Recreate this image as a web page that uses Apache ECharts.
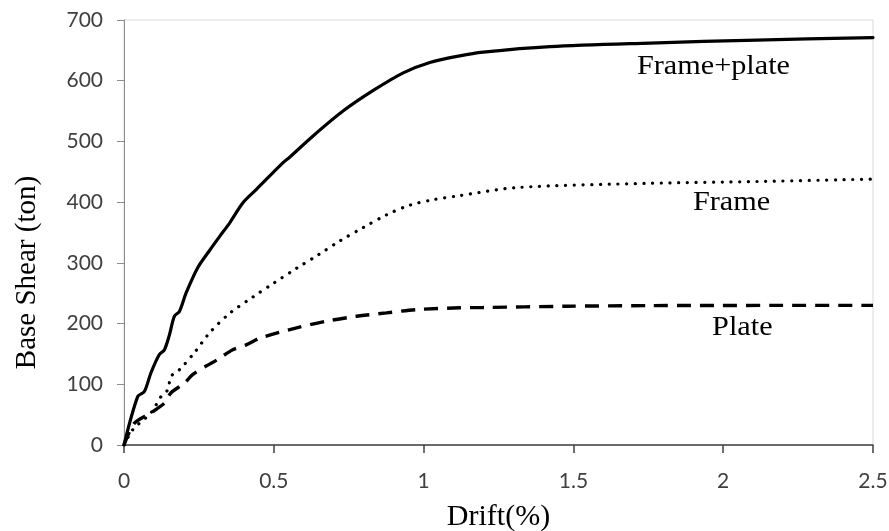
<!DOCTYPE html>
<html>
<head>
<meta charset="utf-8">
<script src="https://cdn.jsdelivr.net/npm/echarts@6/dist/echarts.min.js"></script>
<style>
  html, body { margin: 0; padding: 0; background: #fff; }
  #chart { width: 889px; height: 531px; }
</style>
</head>
<body>
<div id="chart"></div>
<script>
// Pushover curves: base shear vs. roof drift
const xTicks = [0, 0.5, 1, 1.5, 2, 2.5];
const yTicks = [0, 100, 200, 300, 400, 500, 600, 700];

// Frame + plate system (solid)
const framePlateDrift = [0, 0.046, 0.068, 0.09, 0.118, 0.135, 0.152, 0.168, 0.185, 0.207, 0.246, 0.285, 0.32, 0.353, 0.397, 0.442, 0.531, 0.553, 0.631, 0.731, 0.832, 0.932, 1.021, 1.121, 1.199, 1.422, 1.756, 2.112, 2.5];
const framePlateShear = [0, 80, 88, 119, 149, 157, 182, 212, 220, 250, 292, 320, 344, 366, 399, 421, 465, 474, 509, 550, 584, 613, 630, 641, 647, 656, 662, 667, 671];

// Bare frame (dotted)
const frameDrift = [0, 0.029, 0.09, 0.124, 0.146, 0.157, 0.185, 0.235, 0.286, 0.353, 0.431, 0.498, 0.576, 0.648, 0.72, 0.798, 0.876, 0.954, 1.032, 1.11, 1.311, 1.75, 2.112, 2.5];
const frameShear = [0, 25, 53, 80, 91, 113, 124, 152, 185, 217, 244, 266, 291, 313, 336, 358, 379, 395, 404, 410, 424, 431, 434, 438];

// Steel plate (dashed)
const plateDrift = [0, 0.035, 0.09, 0.135, 0.157, 0.202, 0.229, 0.274, 0.313, 0.363, 0.408, 0.453, 0.576, 0.676, 0.776, 0.876, 0.977, 1.121, 1.199, 1.478, 1.75, 2.5];
const plateShear = [0, 36, 53, 69, 86, 102, 116, 130, 141, 157, 165, 176, 193, 204, 212, 217.6, 223, 226, 226.5, 228.5, 229.6, 230];

// Curve captions: [text, drift, shear] at the text's left edge, bottom of box
const curveLabels = [
  ['Frame+plate', 1.712, 601],
  ['Frame', 1.899, 376],
  ['Plate', 1.963, 170]
];

const zip = (xs, ys) => xs.map((x, i) => [x, ys[i]]);

const chart = echarts.init(document.getElementById('chart'), null, { renderer: 'canvas' });

const serif = '"Liberation Serif", "Times New Roman", serif';
const sans = 'Lato, "Open Sans", sans-serif';

const option = {
  animation: false,
  backgroundColor: '#ffffff',
  grid: {
    left: 124, right: 16, top: 20, bottom: 86,
    outerBoundsMode: 'none',
    containLabel: false,
    show: true, borderColor: '#d9d9d9', borderWidth: 1, backgroundColor: 'transparent'
  },
  xAxis: {
    type: 'value',
    min: xTicks[0], max: xTicks[xTicks.length - 1], interval: xTicks[1] - xTicks[0],
    name: 'Drift(%)',
    nameLocation: 'middle',
    nameGap: 57,
    nameMoveOverlap: false,
    nameTextStyle: { fontFamily: serif, fontSize: 30, color: '#000' },
    axisLine: { show: true, lineStyle: { color: '#404040', width: 1.5 } },
    axisTick: { show: true, inside: false, length: 8, lineStyle: { color: '#404040', width: 1.5 } },
    axisLabel: { fontFamily: sans, fontSize: 21, color: '#404040', margin: 26 },
    splitLine: { show: false }
  },
  yAxis: {
    type: 'value',
    min: yTicks[0], max: yTicks[yTicks.length - 1], interval: yTicks[1] - yTicks[0],
    name: 'Base Shear (ton)',
    nameLocation: 'middle',
    nameGap: 82,
    nameMoveOverlap: false,
    nameTextStyle: { fontFamily: serif, fontSize: 29, color: '#000', padding: [0, 80, 0, 0] },
    axisLine: { show: true, lineStyle: { color: '#8c8c8c', width: 1 } },
    axisTick: { show: true, inside: false, length: 7, lineStyle: { color: '#8c8c8c', width: 1 } },
    axisLabel: { fontFamily: sans, fontSize: 21, color: '#404040', margin: 21 },
    splitLine: { show: false }
  },
  series: [
    {
      name: 'Frame+plate', type: 'line', showSymbol: false, smooth: 0.3,
      data: zip(framePlateDrift, framePlateShear),
      lineStyle: { color: '#000', width: 3.2, type: 'solid', cap: 'round', join: 'round' }
    },
    {
      name: 'Frame', type: 'line', showSymbol: false, smooth: 0.3,
      data: zip(frameDrift, frameShear),
      lineStyle: { color: '#000', width: 3.2, type: [0.1, 8.6], cap: 'round' }
    },
    {
      name: 'Plate', type: 'line', showSymbol: false, smooth: 0.3,
      data: zip(plateDrift, plateShear),
      lineStyle: { color: '#000', width: 3.4, type: [14, 9], cap: 'butt' }
    }
  ]
};

chart.setOption(option);

// Place the curve captions in data space
function placeLabels() {
  const elements = curveLabels.map(([text, x, y]) => {
    const p = chart.convertToPixel({ gridIndex: 0 }, [x, y]);
    return {
      type: 'text',
      x: p[0], y: p[1],
      scaleX: 1.12,
      style: {
        text: text,
        font: '27px ' + serif,
        fill: '#000',
        textAlign: 'left',
        textVerticalAlign: 'bottom'
      }
    };
  });
  chart.setOption({ graphic: elements });
}
placeLabels();
</script>
</body>
</html>
